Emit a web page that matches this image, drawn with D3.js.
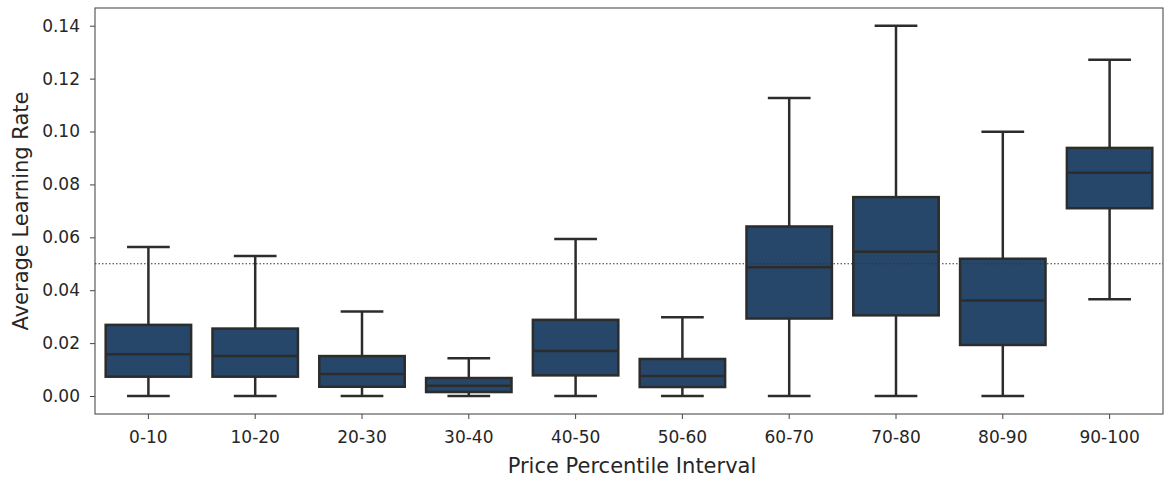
<!DOCTYPE html>
<html>
<head>
<meta charset="utf-8">
<script src="https://cdn.jsdelivr.net/npm/d3@7"></script>
<style>
  html, body { margin: 0; padding: 0; background: #fff; }
  text { font-family: "DejaVu Sans", sans-serif; fill: #262626; }
</style>
</head>
<body>
<svg id="chart" width="1164" height="477"></svg>
<script>
// Price percentile buckets and the box statistics of average learning rate
const categories = ["0-10", "10-20", "20-30", "30-40", "40-50", "50-60", "60-70", "70-80", "80-90", "90-100"];
const whiskerLow = [0.0, 0.0, 0.0, 0.0, 0.0, 0.0, 0.0, 0.0, 0.0, 0.0366];
const q1         = [0.0073, 0.0073, 0.0035, 0.0015, 0.0078, 0.0034, 0.0293, 0.0305, 0.0193, 0.0710];
const medians    = [0.0158, 0.0151, 0.0083, 0.0039, 0.0170, 0.0076, 0.0487, 0.0545, 0.0361, 0.0844];
const q3         = [0.0269, 0.0255, 0.0151, 0.0068, 0.0288, 0.0140, 0.0641, 0.0752, 0.0519, 0.0938];
const whiskerHigh= [0.0563, 0.0529, 0.0320, 0.0143, 0.0594, 0.0298, 0.1127, 0.1400, 0.0999, 0.1271];
const yTicks = [0.00, 0.02, 0.04, 0.06, 0.08, 0.10, 0.12, 0.14];
const reference = 0.05;

const svg = d3.select("#chart");
const plotLeft = 95, plotRight = 1163, plotTop = 8, plotBottom = 414;

const x = d3.scaleBand().domain(categories).range([plotLeft, plotRight]).padding(0);
const y = d3.scaleLinear().domain([-0.0068, 0.1467]).range([plotBottom, plotTop]);

const boxW = x.bandwidth() * 0.8;
const capW = boxW / 2;
const lineColor = "#2c2c2c";
const fill = "#264769";

// axes
const yAxis = svg.append("g")
  .attr("transform", `translate(${plotLeft},0)`)
  .call(d3.axisLeft(y).tickValues(yTicks).tickFormat(d3.format(".2f")).tickSize(5).tickPadding(10));
const xAxis = svg.append("g")
  .attr("transform", `translate(0,${plotBottom})`)
  .call(d3.axisBottom(x).tickSize(5).tickPadding(11.5));
[yAxis, xAxis].forEach(g => {
  g.select(".domain").remove();
  g.selectAll(".tick line").attr("stroke", "#444").attr("stroke-width", 1);
  g.selectAll(".tick text").attr("font-size", 17).attr("fill", "#262626")
    .style("font-family", "'DejaVu Sans', sans-serif");
});

// frame
svg.append("rect")
  .attr("x", plotLeft).attr("y", plotTop)
  .attr("width", plotRight - plotLeft).attr("height", plotBottom - plotTop)
  .attr("fill", "none").attr("stroke", "#4d4d4d").attr("stroke-width", 1.1);

const data = categories.map((c, i) => ({
  c, lo: whiskerLow[i], q1: q1[i], med: medians[i], q3: q3[i], hi: whiskerHigh[i]
}));

const g = svg.append("g");
const box = g.selectAll("g.box").data(data).join("g").attr("class", "box");
const cx = d => x(d.c) + x.bandwidth() / 2;

// whiskers
box.append("line")
  .attr("x1", cx).attr("x2", cx)
  .attr("y1", d => y(d.q3)).attr("y2", d => y(d.hi))
  .attr("stroke", lineColor).attr("stroke-width", 2.5);
box.append("line")
  .attr("x1", cx).attr("x2", cx)
  .attr("y1", d => y(d.q1)).attr("y2", d => y(d.lo))
  .attr("stroke", lineColor).attr("stroke-width", 2.5);
// caps
box.append("line")
  .attr("x1", d => cx(d) - capW / 2).attr("x2", d => cx(d) + capW / 2)
  .attr("y1", d => y(d.hi)).attr("y2", d => y(d.hi))
  .attr("stroke", lineColor).attr("stroke-width", 2.5);
box.append("line")
  .attr("x1", d => cx(d) - capW / 2).attr("x2", d => cx(d) + capW / 2)
  .attr("y1", d => y(d.lo)).attr("y2", d => y(d.lo))
  .attr("stroke", lineColor).attr("stroke-width", 2.5);
// boxes
box.append("rect")
  .attr("x", d => cx(d) - boxW / 2).attr("width", boxW)
  .attr("y", d => y(d.q3)).attr("height", d => y(d.q1) - y(d.q3))
  .attr("fill", fill).attr("stroke", lineColor).attr("stroke-width", 2.5);
// medians
box.append("line")
  .attr("x1", d => cx(d) - boxW / 2).attr("x2", d => cx(d) + boxW / 2)
  .attr("y1", d => y(d.med)).attr("y2", d => y(d.med))
  .attr("stroke", lineColor).attr("stroke-width", 2.5);

// reference line
svg.append("line")
  .attr("x1", plotLeft).attr("x2", plotRight)
  .attr("y1", y(reference)).attr("y2", y(reference))
  .attr("stroke", "#333").attr("stroke-width", 1.1).attr("stroke-dasharray", "1.5,2");

// axis titles
svg.append("text")
  .attr("x", 632).attr("y", 473)
  .attr("text-anchor", "middle").attr("font-size", 21)
  .text("Price Percentile Interval");
svg.append("text")
  .attr("transform", `translate(28,${(plotTop + plotBottom) / 2}) rotate(-90)`)
  .attr("text-anchor", "middle").attr("font-size", 21)
  .text("Average Learning Rate");
</script>
</body>
</html>
